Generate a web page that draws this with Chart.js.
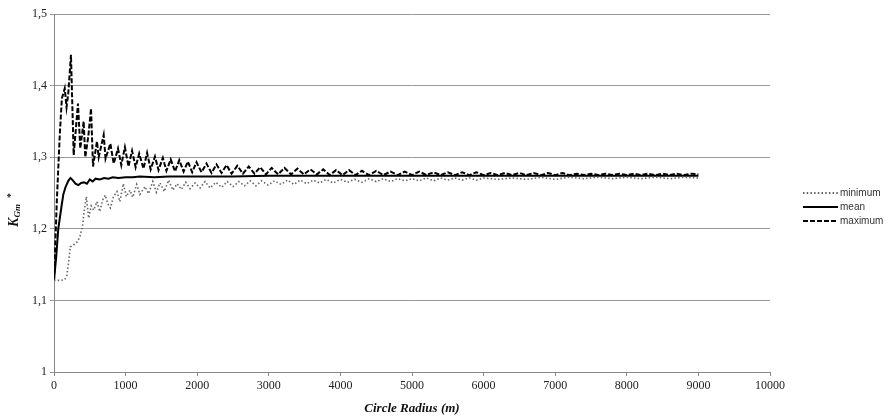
<!DOCTYPE html>
<html>
<head>
<meta charset="utf-8">
<script src="https://cdn.jsdelivr.net/npm/chart.js@4.4.0/dist/chart.umd.min.js"></script>
<style>
html, body { margin: 0; padding: 0; background: #fff; }
#wrap { width: 896px; height: 419px; }
</style>
</head>
<body>
<div id="wrap"><canvas id="chart"></canvas></div>
<script>
// 半径 (m) ごとの KGm* の値
const rMin = [0, 50, 100, 150, 180, 200, 228, 260, 298, 330, 367, 400, 414, 452, 484, 520, 554, 600, 640, 680,
  717, 750, 787, 830, 880, 920, 968, 1010, 1061, 1100, 1155, 1200, 1271, 1320, 1380, 1430, 1480, 1540, 1600, 1660,
  1720, 1780, 1840, 1900, 1970, 2040, 2110, 2180, 2260, 2340, 2420, 2500, 2580, 2660, 2740, 2820, 2900, 2990, 3080, 3170,
  3260, 3350, 3440, 3530, 3620, 3710, 3800, 3900, 4000, 4100, 4200, 4300, 4400, 4500, 4600, 4700, 4800, 4900, 5000, 5100,
  5200, 5300, 5400, 5500, 5600, 5700, 5800, 5900, 6000, 6200, 6400, 6600, 6800, 7000, 7200, 7400, 7600, 7800, 8000, 8200,
  8400, 8600, 8800, 9000]
const minVals = [1.128, 1.128, 1.128, 1.129, 1.135, 1.150, 1.175, 1.176, 1.180, 1.182, 1.191, 1.205, 1.219, 1.245, 1.215, 1.232, 1.226, 1.238, 1.224, 1.240,
  1.247, 1.235, 1.229, 1.245, 1.252, 1.238, 1.263, 1.245, 1.254, 1.244, 1.262, 1.248, 1.259, 1.249, 1.266, 1.251, 1.264, 1.252, 1.268, 1.254,
  1.263, 1.255, 1.265, 1.256, 1.264, 1.257, 1.266, 1.257, 1.265, 1.258, 1.266, 1.259, 1.266, 1.260, 1.267, 1.260, 1.267, 1.261, 1.267, 1.262,
  1.268, 1.262, 1.268, 1.263, 1.268, 1.264, 1.269, 1.264, 1.269, 1.265, 1.269, 1.265, 1.270, 1.266, 1.270, 1.266, 1.270, 1.267, 1.270, 1.267,
  1.271, 1.267, 1.271, 1.268, 1.271, 1.268, 1.271, 1.268, 1.271, 1.269, 1.271, 1.269, 1.272, 1.269, 1.272, 1.270, 1.272, 1.270, 1.272, 1.270,
  1.272, 1.270, 1.272, 1.271]

const rMean = [0, 30, 60, 100, 130, 160, 200, 230, 260, 300, 340, 380, 420, 460, 500, 540, 580, 640, 700, 760,
  820, 900, 1000, 1100, 1200, 1400, 1600, 2000, 2500, 3000, 4000, 5000, 6000, 7000, 8000, 9000]
const meanVals = [1.128, 1.160, 1.200, 1.228, 1.248, 1.258, 1.267, 1.271, 1.268, 1.263, 1.261, 1.264, 1.265, 1.263, 1.269, 1.266, 1.270, 1.269, 1.271, 1.270,
  1.272, 1.271, 1.272, 1.272, 1.273, 1.272, 1.273, 1.273, 1.273, 1.274, 1.274, 1.274, 1.274, 1.274, 1.274, 1.274]

const rMax = [0, 40, 80, 110, 150, 175, 200, 237, 275, 335, 367, 414, 437, 480, 517, 545, 600, 624, 694, 720,
  787, 834, 894, 940, 990, 1040, 1090, 1140, 1190, 1250, 1300, 1350, 1410, 1460, 1520, 1570, 1630, 1690, 1750, 1810,
  1870, 1930, 1990, 2060, 2130, 2200, 2270, 2340, 2410, 2480, 2560, 2640, 2720, 2800, 2880, 2960, 3040, 3130, 3220, 3310,
  3400, 3490, 3580, 3670, 3760, 3850, 3940, 4030, 4120, 4210, 4300, 4400, 4500, 4600, 4700, 4800, 4900, 5000, 5100, 5200,
  5300, 5400, 5500, 5600, 5700, 5800, 5900, 6000, 6100, 6200, 6300, 6400, 6500, 6600, 6700, 6800, 6900, 7000, 7100, 7200,
  7300, 7400, 7500, 7600, 7700, 7800, 7900, 8000, 8100, 8200, 8300, 8400, 8500, 8600, 8700, 8800, 8900, 9000]
const maxVals = [1.128, 1.240, 1.330, 1.382, 1.396, 1.370, 1.390, 1.443, 1.303, 1.375, 1.312, 1.350, 1.300, 1.330, 1.368, 1.287, 1.322, 1.300, 1.331, 1.298,
  1.319, 1.291, 1.312, 1.289, 1.314, 1.287, 1.309, 1.286, 1.305, 1.284, 1.306, 1.283, 1.301, 1.282, 1.299, 1.281, 1.297, 1.280, 1.296, 1.280,
  1.294, 1.279, 1.293, 1.279, 1.291, 1.278, 1.290, 1.278, 1.289, 1.277, 1.288, 1.277, 1.287, 1.277, 1.286, 1.276, 1.285, 1.276, 1.285, 1.276,
  1.284, 1.276, 1.283, 1.276, 1.283, 1.275, 1.282, 1.275, 1.282, 1.275, 1.281, 1.275, 1.281, 1.275, 1.280, 1.275, 1.280, 1.275, 1.280, 1.275,
  1.279, 1.275, 1.279, 1.275, 1.279, 1.275, 1.279, 1.275, 1.278, 1.275, 1.278, 1.275, 1.278, 1.275, 1.278, 1.275, 1.278, 1.275, 1.278, 1.275,
  1.277, 1.275, 1.277, 1.275, 1.277, 1.275, 1.277, 1.275, 1.277, 1.275, 1.277, 1.275, 1.277, 1.275, 1.277, 1.275, 1.277, 1.276]

const seriesNames = ['minimum', 'mean', 'maximum']
const xTickLabels = ['0', '1000', '2000', '3000', '4000', '5000', '6000', '7000', '8000', '9000', '10000']
const yTickLabels = ['1', '1,1', '1,2', '1,3', '1,4', '1,5']

function toPoints(xs, ys){
    return xs.map((x, i) => ({x: x, y: ys[i]}))
}

// y軸タイトル K_Gm * (添字付き)
const yTitlePlugin = {
    id: 'yTitle',
    afterDraw(chart){
        const ctx = chart.ctx
        const cy = (chart.chartArea.top + chart.chartArea.bottom) / 2 + 17
        ctx.save()
        ctx.fillStyle = '#111'
        ctx.textBaseline = 'alphabetic'
        ctx.font = 'bold italic 14px "Liberation Serif"'
        const wK = ctx.measureText('K').width
        ctx.font = 'bold italic 9px "Liberation Serif"'
        const wG = ctx.measureText('Gm').width
        ctx.font = 'bold 10px "Liberation Serif"'
        const wS = ctx.measureText('*').width
        const total = wK + wG + 6 + wS
        ctx.translate(18, cy + total / 2)
        ctx.rotate(-Math.PI / 2)
        ctx.font = 'bold italic 14px "Liberation Serif"'
        ctx.fillText('K', 0, 0)
        ctx.font = 'bold italic 9px "Liberation Serif"'
        ctx.fillText('Gm', wK, 2)
        ctx.font = 'bold 10px "Liberation Serif"'
        ctx.fillText('*', wK + wG + 6, -4)
        ctx.restore()
    }
}

// 右側の凡例
const sideLegendPlugin = {
    id: 'sideLegend',
    afterDraw(chart){
        const ctx = chart.ctx
        const x0 = chart.chartArea.right + 33
        const y0 = 193
        chart.data.datasets.forEach((ds, i) => {
            const y = y0 + i * 14
            ctx.save()
            ctx.strokeStyle = ds.legendColor || ds.borderColor
            ctx.lineWidth = ds.borderWidth
            ctx.setLineDash(ds.borderDash || [])
            ctx.beginPath()
            ctx.moveTo(x0, y)
            ctx.lineTo(x0 + 35, y)
            ctx.stroke()
            ctx.restore()
            ctx.save()
            ctx.fillStyle = '#333'
            ctx.font = '10px "Liberation Sans"'
            ctx.textBaseline = 'middle'
            ctx.fillText(ds.label, x0 + 37, y)
            ctx.restore()
        })
    }
}

function drawChart(canvas){
    const chart = new Chart(
        canvas,
        {
            type: 'line',
            data: {
                datasets: [
                    {
                        label: seriesNames[0],
                        data: toPoints(rMin, minVals),
                        borderColor: '#666',
                        legendColor: '#333',
                        borderWidth: 1.6,
                        borderDash: [1.5, 2.2],
                        pointRadius: 0,
                        tension: 0
                    },
                    {
                        label: seriesNames[1],
                        data: toPoints(rMean, meanVals),
                        borderColor: '#000',
                        borderWidth: 2,
                        pointRadius: 0,
                        tension: 0
                    },
                    {
                        label: seriesNames[2],
                        data: toPoints(rMax, maxVals),
                        borderColor: '#000',
                        borderWidth: 2,
                        borderDash: [5, 2],
                        pointRadius: 0,
                        tension: 0
                    }
                ]
            },
            options: {
                responsive: true,
                maintainAspectRatio: false,
                animation: false,
                layout: {padding: {top: 14, right: 126, left: 0, bottom: 0}},
                plugins: {
                    legend: {display: false},
                    tooltip: {enabled: false}
                },
                scales: {
                    x: {
                        type: 'linear',
                        min: 0,
                        max: 10000,
                        ticks: {
                            stepSize: 1000,
                            color: '#222',
                            padding: 3,
                            maxRotation: 0,
                            font: {family: '"Liberation Serif"', size: 12},
                            callback: (v, i) => xTickLabels[i]
                        },
                        grid: {drawOnChartArea: false, drawTicks: true, tickLength: 4, color: '#888'},
                        border: {color: '#888'},
                        title: {
                            display: true,
                            text: 'Circle Radius (m)',
                            color: '#111',
                            font: {family: '"Liberation Serif"', size: 13, style: 'italic', weight: 'bold'},
                            padding: {top: 4, bottom: 3}
                        },
                        afterFit: s => { s.height = 47 }
                    },
                    y: {
                        min: 1,
                        max: 1.5,
                        ticks: {
                            stepSize: 0.1,
                            color: '#222',
                            padding: 3,
                            font: {family: '"Liberation Serif"', size: 12},
                            callback: (v, i) => yTickLabels[i]
                        },
                        grid: {color: '#999', tickLength: 4},
                        border: {color: '#888'},
                        afterFit: s => { s.width = 54 }
                    }
                }
            },
            plugins: [yTitlePlugin, sideLegendPlugin]
        }
    )
    return chart
}

drawChart(document.getElementById('chart'))
</script>
</body>
</html>
